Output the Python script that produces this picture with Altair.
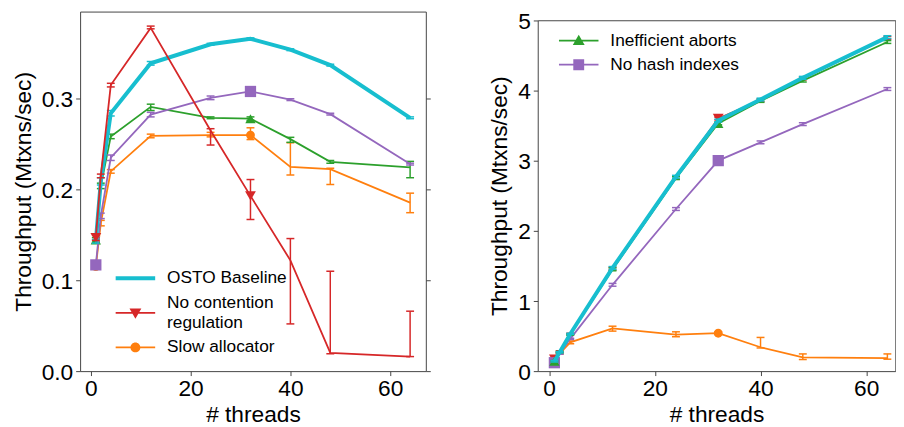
import altair as alt
import pandas as pd

threads = [1, 2, 4, 12, 24, 32, 40, 48, 64]
marker_threads = [1, 32]

# ---------- left panel ----------
left_baseline = [0.143, 0.209, 0.284, 0.339, 0.360, 0.366, 0.354, 0.337, 0.279]
left_baseline_lo = [0.141, 0.205, 0.281, 0.337, 0.359, 0.365, 0.353, 0.336, 0.278]
left_baseline_hi = [0.145, 0.213, 0.287, 0.341, 0.361, 0.367, 0.355, 0.338, 0.280]

left_nocont = [0.147, 0.215, 0.315, 0.378, 0.265, 0.193, 0.122, 0.020, 0.016]
left_nocont_lo = [0.144, 0.213, 0.313, 0.377, 0.249, 0.167, 0.052, 0.019, 0.016]
left_nocont_hi = [0.150, 0.217, 0.317, 0.380, 0.267, 0.211, 0.146, 0.110, 0.066]

left_slow = [0.115, 0.163, 0.220, 0.259, 0.260, 0.260, 0.225, 0.2225, 0.1855]
left_slow_lo = [0.113, 0.160, 0.218, 0.257, 0.258, 0.255, 0.216, 0.2055, 0.1745]
left_slow_hi = [0.117, 0.166, 0.222, 0.261, 0.263, 0.268, 0.2515, 0.2235, 0.196]

left_ineff = [0.1445, 0.204, 0.2585, 0.291, 0.279, 0.278, 0.2555, 0.2305, 0.2245]
left_ineff_lo = [0.142, 0.201, 0.256, 0.287, 0.278, 0.276, 0.252, 0.229, 0.213]
left_ineff_hi = [0.147, 0.207, 0.261, 0.294, 0.280, 0.280, 0.2575, 0.232, 0.231]

left_nohash = [0.117, 0.171, 0.235, 0.2825, 0.301, 0.308, 0.299, 0.283, 0.228]
left_nohash_lo = [0.115, 0.168, 0.232, 0.280, 0.299, 0.306, 0.298, 0.282, 0.227]
left_nohash_hi = [0.119, 0.174, 0.238, 0.285, 0.303, 0.310, 0.300, 0.284, 0.229]

# ---------- right panel ----------
right_baseline = [0.14, 0.27, 0.53, 1.47, 2.77, 3.57, 3.87, 4.18, 4.76]
right_baseline_lo = [0.13, 0.26, 0.52, 1.45, 2.75, 3.55, 3.85, 4.16, 4.74]
right_baseline_hi = [0.15, 0.28, 0.54, 1.49, 2.79, 3.59, 3.89, 4.20, 4.78]

right_nocont = [0.17, 0.28, 0.53, 1.46, 2.76, 3.60, 3.86, 4.17, 4.75]
right_nocont_lo = [0.16, 0.27, 0.52, 1.44, 2.74, 3.58, 3.84, 4.15, 4.73]
right_nocont_hi = [0.18, 0.29, 0.54, 1.48, 2.78, 3.62, 3.88, 4.19, 4.77]

right_slow = [0.12, 0.25, 0.41, 0.61, 0.52, 0.54, 0.34, 0.195, 0.185]
right_slow_lo = [0.11, 0.24, 0.39, 0.57, 0.49, 0.52, 0.33, 0.165, 0.17]
right_slow_hi = [0.13, 0.26, 0.43, 0.64, 0.56, 0.56, 0.48, 0.245, 0.245]

right_ineff = [0.14, 0.27, 0.52, 1.45, 2.75, 3.53, 3.85, 4.14, 4.69]
right_ineff_lo = [0.13, 0.26, 0.51, 1.43, 2.73, 3.51, 3.83, 4.12, 4.67]
right_ineff_hi = [0.15, 0.28, 0.53, 1.47, 2.77, 3.55, 3.87, 4.16, 4.71]

right_nohash = [0.12, 0.25, 0.46, 1.23, 2.31, 3.00, 3.26, 3.52, 4.02]
right_nohash_lo = [0.11, 0.24, 0.45, 1.21, 2.29, 2.98, 3.24, 3.50, 4.00]
right_nohash_hi = [0.13, 0.26, 0.47, 1.25, 2.33, 3.02, 3.28, 3.54, 4.04]

COLORS = {"OSTO Baseline": "#17becf", "No contention regulation": "#d62728",
          "Slow allocator": "#ff7f0e", "Inefficient aborts": "#2ca02c",
          "No hash indexes": "#9467bd"}
WIDTHS = {"OSTO Baseline": 4, "No contention regulation": 1.8, "Slow allocator": 1.8,
          "Inefficient aborts": 1.8, "No hash indexes": 1.8}
MARKERS = {"OSTO Baseline": None, "No contention regulation": ("triangle-down", 120),
           "Slow allocator": ("circle", 80), "Inefficient aborts": ("triangle-up", 110),
           "No hash indexes": ("square", 130)}
# legend glyphs: line segment + marker (symbolSize 400 -> 10 px per path unit)
LEG_PATHS = {
    "OSTO Baseline": "M-2,-0.2H2V0.2H-2Z",
    "No contention regulation": "M-2,0.86H2V1.04H-2ZM0,1.55L-0.6,0.51H0.6Z",
    "Slow allocator": "M-2,-0.09H2V0.09H-2ZM-0.5,0A0.5,0.5,0,1,1,0.5,0A0.5,0.5,0,1,1,-0.5,0Z",
    "Inefficient aborts": "M-2,-0.09H2V0.09H-2ZM0,-0.6L0.6,0.44H-0.6Z",
    "No hash indexes": "M-2,-0.09H2V0.09H-2ZM-0.55,-0.55H0.55V0.55H-0.55Z",
}

panels = {
    "left": {
        "OSTO Baseline": (left_baseline, left_baseline_lo, left_baseline_hi),
        "No contention regulation": (left_nocont, left_nocont_lo, left_nocont_hi),
        "Slow allocator": (left_slow, left_slow_lo, left_slow_hi),
        "Inefficient aborts": (left_ineff, left_ineff_lo, left_ineff_hi),
        "No hash indexes": (left_nohash, left_nohash_lo, left_nohash_hi),
    },
    "right": {
        "OSTO Baseline": (right_baseline, right_baseline_lo, right_baseline_hi),
        "No contention regulation": (right_nocont, right_nocont_lo, right_nocont_hi),
        "Slow allocator": (right_slow, right_slow_lo, right_slow_hi),
        "Inefficient aborts": (right_ineff, right_ineff_lo, right_ineff_hi),
        "No hash indexes": (right_nohash, right_nohash_lo, right_nohash_hi),
    },
}

rows = []
for pname, sers in panels.items():
    for s, (v, lo, hi) in sers.items():
        for t, a, b, c in zip(threads, v, lo, hi):
            rows.append({"panel": pname, "series": s, "threads": t, "value": a,
                         "lo": b, "hi": c, "marker": t in marker_threads})
df = pd.DataFrame(rows)
legend_df = pd.DataFrame({"panel": ["left"] * 3 + ["right"] * 2,
                          "series": ["OSTO Baseline", "No contention regulation", "Slow allocator",
                                     "Inefficient aborts", "No hash indexes"]})

FONT = "Liberation Sans"
FRAME = "#444444"


def make_panel(pname, order, legend_series, y_domain, y_range, y_ticks, y_fmt, width, height,
               x_domain, leg_x, leg_y, leg_rowpad, framed_by_axes):
    xs = alt.Scale(domain=x_domain, nice=False, zero=False)
    ys = alt.Scale(domain=y_domain, nice=False, zero=False, range=y_range)
    xaxis = alt.Axis(values=[0, 20, 40, 60], title="# threads", format="d",
                     domain=framed_by_axes, domainColor=FRAME, domainWidth=1)
    yaxis = alt.Axis(values=y_ticks, title="Throughput (Mtxns/sec)", format=y_fmt,
                     domain=framed_by_axes, domainColor=FRAME, domainWidth=1)
    X = alt.X("threads:Q", scale=xs, axis=xaxis)
    layers = []
    for s in order:
        c = COLORS[s]
        base = alt.Chart(df).transform_filter(
            (alt.datum.panel == pname) & (alt.datum.series == s))
        layers.append(base.mark_rule(color=c, strokeWidth=1.5).encode(
            x=X, y=alt.Y("lo:Q", scale=ys, axis=yaxis), y2="hi:Q"))
        layers.append(base.transform_fold(["lo", "hi"], as_=["end", "ev"]).mark_tick(
            orient="horizontal", size=8, thickness=1.5, color=c, opacity=1).encode(
            x=X, y=alt.Y("ev:Q", scale=ys, axis=yaxis)))
        layers.append(base.mark_line(color=c, strokeWidth=WIDTHS[s]).encode(
            x=X, y=alt.Y("value:Q", scale=ys, axis=yaxis)))
        if MARKERS[s]:
            shp, sz = MARKERS[s]
            layers.append(base.transform_filter(alt.datum.marker).mark_point(
                shape=shp, size=sz, filled=True, color=c, opacity=1, strokeWidth=0).encode(
                x=X, y=alt.Y("value:Q", scale=ys, axis=yaxis)))
    leg = alt.Legend(orient="none", legendX=leg_x, legendY=leg_y, title=None,
                     labelFont=FONT, labelFontSize=17.5, labelColor="black",
                     symbolSize=400, symbolStrokeWidth=0, labelOffset=22,
                     rowPadding=leg_rowpad, padding=0, labelLimit=300,
                     labelExpr="datum.label == 'No contention regulation' ? ['No contention', 'regulation'] : datum.label")
    legend_layer = alt.Chart(legend_df).transform_filter(
        alt.datum.panel == pname).transform_filter("false").mark_point(
        filled=True, opacity=1, size=400, strokeWidth=0).encode(
        color=alt.Color("series:N", scale=alt.Scale(domain=legend_series,
                                                     range=[COLORS[s] for s in legend_series]),
                        legend=leg),
        shape=alt.Shape("series:N", scale=alt.Scale(domain=legend_series,
                                                     range=[LEG_PATHS[s] for s in legend_series]),
                        legend=leg),
    )
    inner = alt.layer(*layers, legend_layer)
    frame_src = alt.Chart(df).transform_filter(
        (alt.datum.panel == pname) & (alt.datum.series == "OSTO Baseline")).mark_line(opacity=0)
    if not framed_by_axes:
        # left panel: frame is the view stroke, plus tick marks on the right edge
        tick_layer = frame_src.encode(
            x=X,
            y=alt.Y("value:Q", scale=ys,
                    axis=alt.Axis(orient="right", values=y_ticks, labels=False, title=None,
                                  domain=False, ticks=True)))
        return alt.layer(inner, tick_layer).resolve_scale(y="independent").properties(
            width=width, height=height)
    # right panel: frame drawn by axis domain lines (top edge sits at the y=5 level)
    top_off = -float(y_range[1])
    frame_layer = frame_src.encode(
        x=alt.X("threads:Q", scale=xs,
                axis=alt.Axis(orient="top", offset=top_off, labels=False, ticks=False, title=None,
                              domain=True, domainColor=FRAME, domainWidth=1)),
        y=alt.Y("value:Q", scale=ys,
                axis=alt.Axis(orient="right", labels=False, ticks=False, title=None,
                              domain=True, domainColor=FRAME, domainWidth=1)))
    return alt.layer(inner, frame_layer).resolve_scale(
        x="independent", y="independent").properties(
        width=width, height=height, view=alt.ViewBackground(stroke="transparent"))


left = make_panel("left",
                  ["Slow allocator", "Inefficient aborts", "No hash indexes",
                   "OSTO Baseline", "No contention regulation"],
                  ["OSTO Baseline", "No contention regulation", "Slow allocator"],
                  [0, 0.396], [364, 0], [0, 0.1, 0.2, 0.3], ".1f", 350, 364,
                  [-2.15, 67.15], 46, 260, 6.5, False)
right = make_panel("right",
                   ["No contention regulation", "Slow allocator", "No hash indexes",
                    "Inefficient aborts", "OSTO Baseline"],
                   ["Inefficient aborts", "No hash indexes"],
                   [0, 5], [364, 8.8], [0, 1, 2, 3, 4, 5], "d", 362, 364,
                   [-2.15, 65.5], 31.5, 19.5, 5.3, True)

chart = alt.hconcat(left, right, spacing=57.3).resolve_scale(
    color="independent", shape="independent").properties(
    padding={"left": 3, "top": -1, "right": 0, "bottom": 0}
).configure_axis(
    labelFont=FONT, labelFontSize=23, labelColor="black",
    titleFont=FONT, titleFontSize=23, titleFontWeight="normal", titleColor="black",
    tickColor=FRAME, tickSize=4.5, tickWidth=1, grid=False, domain=False,
    labelPadding=3, titlePadding=4,
).configure_axisX(labelPadding=2, titlePadding=3.8
).configure_axisY(labelBaseline="alphabetic", labelOffset=8.2, titlePadding=6.2
).configure_view(stroke=FRAME, strokeWidth=1)

chart.save("out.html", embed_options={"renderer": "svg", "actions": False})
